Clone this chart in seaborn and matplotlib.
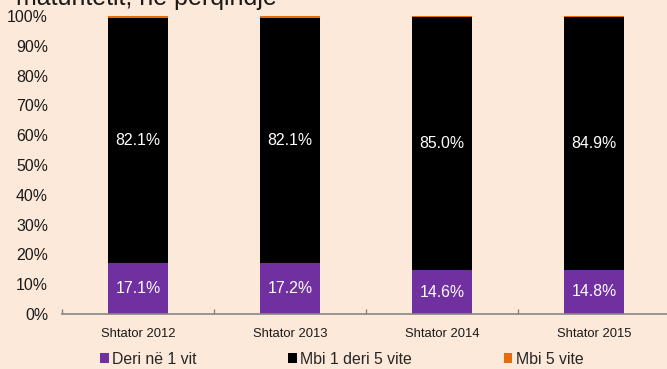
import matplotlib
matplotlib.use("Agg")
import matplotlib.pyplot as plt
from matplotlib.patches import Patch
from matplotlib.ticker import FixedLocator
import seaborn as sns
import pandas as pd

# Structure of deposits by maturity (percent of total)
categories = ["Shtator 2012", "Shtator 2013", "Shtator 2014", "Shtator 2015"]
deri_1_vit = [17.1, 17.2, 14.6, 14.8]
mbi_1_deri_5 = [82.1, 82.1, 85.0, 84.9]
mbi_5_vite = [0.8, 0.7, 0.4, 0.3]
series_names = ["Deri në 1 vit", "Mbi 1 deri 5 vite", "Mbi 5 vite"]
y_ticks = [0, 10, 20, 30, 40, 50, 60, 70, 80, 90, 100]

bg = "#FDE9D9"
purple = "#7030A0"
black = "#000000"
orange = "#E46C0A"

sns.set_theme(style="white")
plt.rcParams["font.family"] = ["Liberation Sans", "DejaVu Sans"]

df = pd.DataFrame({
    "cat": categories,
    "p1": deri_1_vit,
    "p2": mbi_1_deri_5,
    "p3": mbi_5_vite,
})
df["top1"] = df["p1"]
df["top2"] = df["p1"] + df["p2"]
df["top3"] = df["p1"] + df["p2"] + df["p3"]

fig = plt.figure(figsize=(6.67, 3.69), dpi=100, facecolor=bg)
ax = fig.add_axes([62 / 667, 55 / 369, 608 / 667, 298 / 369])
ax.set_facecolor(bg)

# stacked bars drawn as cumulative layers, tallest first
for col, color in [("top3", orange), ("top2", black), ("top1", purple)]:
    sns.barplot(data=df, x="cat", y=col, color=color, width=0.4,
                saturation=1, linewidth=0, ax=ax)

# value labels inside segments
for i in range(len(categories)):
    ax.text(i, df["p1"][i] / 2, f"{deri_1_vit[i]:.1f}%", ha="center", va="center",
            color="white", fontsize=11.4)
    ax.text(i, df["p1"][i] + df["p2"][i] / 2, f"{mbi_1_deri_5[i]:.1f}%",
            ha="center", va="center", color="white", fontsize=11.4)

ax.set_xlim(-0.5, len(categories) - 0.5)
ax.set_ylim(0, 100)
ax.set_yticks(y_ticks)
ax.set_yticklabels([f"{v}%" for v in y_ticks], fontsize=11.4, color="#1a1a1a")
ax.tick_params(axis="y", length=0, pad=10)
ax.set_xlabel("")
ax.set_ylabel("")
ax.tick_params(axis="x", which="major", length=0, pad=10, labelsize=9.4,
               labelcolor="#1a1a1a")
ax.xaxis.set_minor_locator(FixedLocator([-0.5, 0.5, 1.5, 2.5]))
ax.tick_params(axis="x", which="minor", direction="in", length=3.5,
               width=1, color="#868686", bottom=True)

for side in ["top", "right", "left"]:
    ax.spines[side].set_visible(False)
ax.spines["bottom"].set_color("#868686")
ax.spines["bottom"].set_linewidth(1.2)

handles = [Patch(facecolor=c, edgecolor="none") for c in (purple, black, orange)]
fig.legend(handles, series_names, loc="center left",
           bbox_to_anchor=(100 / 667, 1 - 359 / 369), ncol=3, frameon=False,
           fontsize=11.4, handlelength=0.55, handleheight=0.55,
           handletextpad=0.2, columnspacing=5.8, borderpad=0,
           borderaxespad=0)

fig.text(16 / 667, 1 - 5 / 369, "maturitetit, në përqindje", ha="left",
         va="baseline", fontsize=18, color="#1a1a1a")

fig.savefig("out.png", dpi=100, facecolor=bg)
